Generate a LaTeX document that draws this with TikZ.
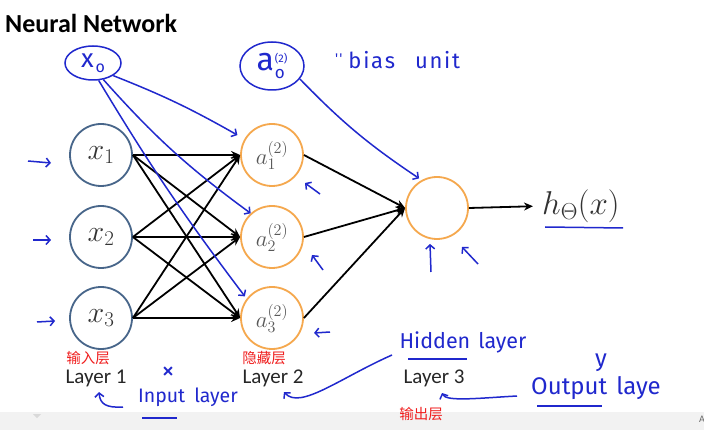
\RequirePackage{fix-cm}
\documentclass[tikz,border=0pt]{standalone}
\usepackage{fontspec}
\newfontfamily\carlito{Carlito}
\newfontfamily\cjk{Noto Sans CJK SC}
\newfontfamily\hand{Fira Sans}
\newfontfamily\handsp{Fira Sans}[LetterSpace=8]
\usetikzlibrary{arrows.meta,shapes.geometric,calc}
\definecolor{inputC}{RGB}{72,102,138}
\definecolor{orangeC}{RGB}{245,168,78}
\definecolor{handC}{RGB}{32,40,205}
\definecolor{redC}{RGB}{240,30,30}
\begin{document}
\begin{tikzpicture}[x=1pt,y=-1pt,
 inp/.style={circle,draw=inputC,line width=1.8pt,minimum size=62pt,inner sep=0pt,text=black!80},
 hid/.style={circle,draw=orangeC,line width=1.8pt,minimum size=62pt,inner sep=0pt,text=black!65},
 conn/.style={line width=1.8pt,-{Stealth[length=9pt,width=8pt]}},
 hw/.style={draw=handC,line width=1.5pt},
 hwa/.style={hw,-{Straight Barb[length=4pt,width=9pt]}},
 hwtext/.style={text=handC,font=\hand,inner sep=0pt},
 lay/.style={font=\carlito\fontsize{21}{21}\selectfont,text=black!85,inner sep=0pt},
 cn/.style={font=\cjk\fontsize{14.5}{14.5}\selectfont,text=redC,inner sep=0pt}]
\useasboundingbox (0,0) rectangle (704,430);
\fill[white] (0,0) rectangle (704,430);
\fill[black!5] (0,412) rectangle (704,430);
\fill[black!15] (33,414) -- (41,414) -- (37,418) -- cycle;
\node[anchor=west,inner sep=0pt,text=black!60,font=\carlito\fontsize{10}{10}\selectfont] (A) at (699,419) {A};

% title
\node[anchor=base west,inner sep=0pt,font=\carlito\bfseries\fontsize{26}{26}\selectfont] (title) at (5,33) {Neural Network};

% nodes
\node[inp] (x1) at (101,155) {\fontsize{30}{30}\selectfont$x_1$};
\node[inp] (x2) at (101,237) {\fontsize{30}{30}\selectfont$x_2$};
\node[inp] (x3) at (101,318) {\fontsize{30}{30}\selectfont$x_3$};
\node[hid] (a1) at (272,155) {\fontsize{23}{23}\selectfont$a_1^{(2)}$};
\node[hid] (a2) at (272,237) {\fontsize{23}{23}\selectfont$a_2^{(2)}$};
\node[hid] (a3) at (272,318) {\fontsize{23}{23}\selectfont$a_3^{(2)}$};
\node[hid] (o) at (437,208) {};
\node[anchor=west,inner sep=0pt,text=black!80] (h) at (542,206) {\fontsize{33}{33}\selectfont$h_\Theta(x)$};

% connectors
\foreach \i in {1,2,3}{
  \foreach \j in {1,2,3}{
    \draw[conn] (x\i.east) -- (a\j.west);
  }
  \draw[conn] (a\i.east) -- (o.west);
}
\draw[conn,shorten >=9pt] (o.east) -- (h.west);

% layer labels
\node[lay] (L1) at (96,378) {Layer 1};
\node[lay] (L2) at (273,378) {Layer 2};
\node[lay] (L3) at (434,378) {Layer 3};
\node[cn] (c1) at (88,358) {输入层};
\node[cn] (c2) at (264,358) {隐藏层};
\node[cn] (c3) at (421,414) {输出层};

% handwritten annotations
\node[ellipse,hw,minimum width=56pt,minimum height=34pt,inner sep=0pt,text=handC,font=\hand\fontsize{26}{26}\selectfont] (x0) at (93,63) {x\hspace{2pt}\raisebox{-5pt}{\fontsize{16}{16}\selectfont o}};
\node[ellipse,hw,minimum width=64pt,minimum height=48pt,inner sep=0pt,text=handC,font=\hand] (a0) at (272,66) {\fontsize{32}{32}\selectfont a\hspace{1pt}\raisebox{-8pt}{\shortstack[l]{\fontsize{11}{12}\selectfont(2)\\[2pt]\fontsize{17}{17}\selectfont o}}};
\node[hwtext,anchor=west,font=\handsp\fontsize{22}{22}\selectfont] (bias) at (335,60) {\raisebox{5pt}{\fontsize{14}{14}\selectfont''}\hspace{6pt}bias\hspace{20pt}unit};

\draw[hwa] (x0.-32) to[bend left=4] ($(a1.150)+(-7,-4)$);
\draw[hwa] (x0.-58) to[bend right=6] (a2.132);
\draw[hwa] (x0.-72) to[bend right=3] ($(a3.142)+(-2,-2)$);
\draw[hwa] (a0.-25) to[bend right=6] ($(o.120)+(-2,-2)$);

\draw[hw] (545,227) -- (623,228);

% small arrows
\coordinate (i1s) at (28,161); \coordinate (i1e) at (51,163);
\coordinate (i2s) at (33,240); \coordinate (i2e) at (51,240);
\coordinate (i3s) at (37,322); \coordinate (i3e) at (55,321);
\draw[hwa] (i1s) -- (i1e);
\draw[hwa] (i2s) -- (i2e);
\draw[hwa] (i3s) -- (i3e);
\coordinate (b1s) at (320,194); \coordinate (b1e) at (305,183);
\coordinate (b2s) at (323,270); \coordinate (b2e) at (312,255);
\coordinate (b3s) at (330,332); \coordinate (b3e) at (314,333);
\draw[hwa] (b1s) -- (b1e);
\draw[hwa] (b2s) -- (b2e);
\draw[hwa] (b3s) -- (b3e);
\coordinate (c1s) at (431,272); \coordinate (c1e) at (430,244);
\coordinate (c2s) at (478,264); \coordinate (c2e) at (462,247);
\draw[hwa] (c1s) -- (c1e);
\draw[hwa] (c2s) -- (c2e);

% bottom annotations
\node[hwtext,font=\hand\fontsize{26}{26}\selectfont] (cross) at (168,373) {×};
\node[hwtext,font=\hand\fontsize{19.5}{19.5}\selectfont] (inl) at (188,397) {Input\hspace{9pt}layer};
\draw[hw] (142,418) -- (177,418);
\node[hwtext,font=\hand\fontsize{21.5}{21.5}\selectfont] (hidl) at (463,342) {Hidden\hspace{8pt}layer};
\draw[hw] (408,359) -- (467,359);
\node[hwtext,font=\hand\fontsize{24}{24}\selectfont] (outl) at (596,388) {Output\hspace{9pt}laye};
\node[hwtext,font=\hand\fontsize{24}{24}\selectfont] (yl) at (601,363) {y};
\draw[hw] (537,406) -- (602,406);

\coordinate (p1s) at (123,407); \coordinate (p1e) at (99,392);
\draw[hwa] (p1s) .. controls (106,408) and (100,404) .. (p1e);
\coordinate (p2s) at (392,355); \coordinate (p2e) at (284,392);
\draw[hwa] (p2s) .. controls (340,378) and (300,410) .. (p2e);
\coordinate (p3s) at (517,396); \coordinate (p3e) at (442,393);
\draw[hwa] (p3s) .. controls (480,398) and (446,402) .. (p3e);
\end{tikzpicture}
\end{document}
